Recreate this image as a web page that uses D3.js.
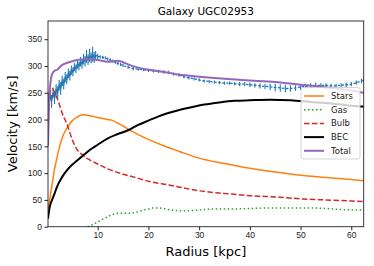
<!DOCTYPE html>
<html lang="en">
<head>
    <meta charset="utf-8">
    <title>Galaxy UGC02953</title>
    <style>
        body { margin: 0; background: #fff; }
        svg { display: block; font-family: "DejaVu Sans", sans-serif; }
        .tick text { font-size: 8.5px; fill: #222; }
        .tick line { stroke: #222; }
    </style>
</head>
<body>
    <div id="container"></div>

    <script src="https://cdn.jsdelivr.net/npm/d3@7"></script>
    <script>
        // Model curves: [radius kpc, velocity km/s]
        const stars = [[0.2,32],[0.6,55],[1,78],[1.5,108],[2,130],[2.5,150],[3,166],[4,185],[5,198],[6,205],[7,209],[8,208],
            [9,206],[10,204],[11,202],[12,200],[13,198],[14,193],[15,188],[16,182],[18,172],[20,163],[23,151],[26,141],
            [30,128],[35,118],[40,109],[45,102],[50,96],[55,92],[60,88],[62.5,86]];
        const gas = [[8,0],[9,4],[10,9],[11,14],[12,19],[13,23],[14,25],[15,25],[16,25],[17,26],[18,28],[19,31],[20,33],
            [21,35],[22,35],[23,34],[24,32],[26,30],[28,30],[30,31],[33,33],[36,33],[40,34],[44,35],[48,35],[52,35],
            [55,34],[58,32],[62.5,31]];
        const bulb = [[0.2,200],[0.6,250],[1,258],[1.5,250],[2.2,235],[3,212],[4,190],[5,162],[6,143],[7,134],[8,127],
            [10,117],[12,108],[15,98],[17,93],[20,85],[24,78],[30,67],[35,62],[40,58],[46,55],[50,52],[55,50],[60,48],[62.5,47]];
        const bec = [[0.2,15],[0.5,35],[1,50],[1.5,62],[2,75],[3,93],[4,106],[5,116],[6,124],[7,132],[8,140],[9,147],
            [10,153],[12,165],[14,173],[16,180],[18,190],[20,198],[22,206],[25,215],[28,222],[31,228],[34,232],[37,235],
            [40,236],[44,237],[48,236],[52,233],[56,230],[60,226],[62.5,224]];
        const total = [[0.2,150],[0.4,230],[0.7,270],[1,285],[1.5,291],[2,293],[3,302],[4,306],[5,309],[6,311],[8,313],
            [10,311],[12,308],[13,309],[14,310],[15,307],[16,303],[18,297],[20,293],[23,289],[26,284],[30,280],[35,276],
            [40,273],[45,270],[50,265],[55,260],[60,254],[62.5,250]];

        // Observed rotation curve: [radius, velocity, error]
        const observed = [[0.3,238,12],[0.6,245,10],[0.9,234,12],[1.2,250,10],[1.5,241,12],[1.8,256,10],[2.1,250,12],
            [2.4,264,10],[2.7,258,12],[3.0,272,10],[3.3,266,10],[3.6,279,10],[3.9,275,9],[4.2,286,9],[4.5,282,9],
            [4.8,292,9],[5.1,289,8],[5.4,298,8],[5.7,295,8],[6.0,303,8],[6.3,300,8],[6.6,308,9],[6.9,304,9],[7.2,313,10],
            [7.5,309,10],[7.8,318,12],[8.1,312,10],[8.4,320,12],[8.7,315,10],[9.0,322,14],[9.3,316,10],[9.6,320,8],
            [10,318,5],[10.5,317,3],[11,316,3],[11.5,315,3],[12,313,3],[12.5,311,3],[13,309,3],[13.5,307,3],[14,305,3],
            [14.5,303,3],[15,301,3],[16,298,3],[17,295,3],[18,294,3],[19,293,3],[20,292,3],[21,291,3],[22,290,3],
            [23,289,3],[24,288,3],[25,285,3],[26,283,3],[27,280,3],[28,278,3],[29,276,3],[30,274,3],[31,272,3],
            [32,271,3],[33,270,3],[34,269,3],[35,268,3],[36,268,3],[37,267,3],[38,266,4],[39,266,4],[40,265,4],
            [41,264,4],[42,263,5],[43,262,5],[44,261,6],[45,260,7],[46,259,7],[47,258,7],[48,258,6],[49,259,5],
            [50,261,6],[51,262,5],[52,263,5],[53,264,5],[54,264,4],[55,264,4],[56,263,4],[57,263,4],[58,264,4],
            [59,265,4],[60,266,4],[61,269,4],[62,272,4],[62.5,274,4]];

        const xTicks = [10, 20, 30, 40, 50, 60];
        const yTicks = [0, 50, 100, 150, 200, 250, 300, 350];
        const legendNames = ["Stars", "Gas", "Bulb", "BEC", "Total"];

        // Chart dimensions
        const width = 374;
        const height = 266;
        const marginTop = 21;
        const marginRight = 10.3;
        const marginBottom = 39.3;
        const marginLeft = 48;

        const svg = d3.select("#container").append("svg")
            .attr("width", width)
            .attr("height", height);

        const x = d3.scaleLinear()
            .domain([0.2, 62.45])
            .range([marginLeft, width - marginRight]);

        const y = d3.scaleLinear()
            .domain([0, 384])
            .range([height - marginBottom, marginTop]);

        // clip lines to the axes box
        svg.append("clipPath").attr("id", "clip")
            .append("rect")
            .attr("x", marginLeft).attr("y", marginTop)
            .attr("width", width - marginLeft - marginRight)
            .attr("height", height - marginTop - marginBottom);

        const line = d3.line()
            .x(d => x(d[0]))
            .y(d => y(d[1]))
            .curve(d3.curveMonotoneX);

        const plot = svg.append("g").attr("clip-path", "url(#clip)");

        // observed data: solid through the noisy inner part, broken further out
        const obsLine = d3.line().x(d => x(d[0])).y(d => y(d[1]));
        plot.append("path")
            .datum(observed.filter(d => d[0] <= 10))
            .attr("fill", "none")
            .attr("stroke", "#1f77b4")
            .attr("stroke-width", 1.3)
            .attr("d", obsLine);
        plot.append("path")
            .datum(observed.filter(d => d[0] >= 10))
            .attr("fill", "none")
            .attr("stroke", "#1f77b4")
            .attr("stroke-width", 1.3)
            .attr("stroke-dasharray", "2.5,1.5")
            .attr("d", obsLine);

        plot.selectAll(".err")
            .data(observed)
            .enter().append("line")
            .attr("class", "err")
            .attr("x1", d => x(d[0]))
            .attr("x2", d => x(d[0]))
            .attr("y1", d => y(d[1] - d[2]))
            .attr("y2", d => y(d[1] + d[2]))
            .attr("stroke", "#1f77b4")
            .attr("stroke-width", 1.1);

        const series = [
            { data: stars, color: "#ff7f0e", w: 1.5, dash: null },
            { data: gas, color: "#2ca02c", w: 1.5, dash: "1.5,2.5" },
            { data: bulb, color: "#d62728", w: 1.5, dash: "5.5,2.4" },
            { data: bec, color: "#000000", w: 2, dash: null },
            { data: total, color: "#9467bd", w: 2, dash: null }
        ];

        series.forEach(s => {
            plot.append("path")
                .datum(s.data)
                .attr("fill", "none")
                .attr("stroke", s.color)
                .attr("stroke-width", s.w)
                .attr("stroke-dasharray", s.dash)
                .attr("d", line);
        });

        // Axes
        svg.append("g")
            .attr("transform", `translate(0,${height - marginBottom})`)
            .call(d3.axisBottom(x).tickValues(xTicks).tickSize(3.5).tickPadding(2))
            .call(g => g.select(".domain").remove());

        svg.append("g")
            .attr("transform", `translate(${marginLeft},0)`)
            .call(d3.axisLeft(y).tickValues(yTicks).tickSize(3.5).tickPadding(2.5))
            .call(g => g.select(".domain").remove());

        // frame
        svg.append("rect")
            .attr("x", marginLeft)
            .attr("y", marginTop)
            .attr("width", width - marginLeft - marginRight)
            .attr("height", height - marginTop - marginBottom)
            .attr("fill", "none")
            .attr("stroke", "#222")
            .attr("stroke-width", 0.9);

        // Title and labels
        const cx = (marginLeft + width - marginRight) / 2;
        svg.append("text")
            .attr("x", cx).attr("y", 15)
            .attr("text-anchor", "middle")
            .attr("font-size", 10.5)
            .text("Galaxy UGC02953");

        svg.append("text")
            .attr("x", cx).attr("y", 256)
            .attr("text-anchor", "middle")
            .attr("font-size", 13)
            .text("Radius [kpc]");

        svg.append("text")
            .attr("transform", `translate(17,${(marginTop + height - marginBottom) / 2}) rotate(-90)`)
            .attr("text-anchor", "middle")
            .attr("font-size", 13)
            .text("Velocity [km/s]");

        // Legend
        const legend = svg.append("g");
        legend.append("rect")
            .attr("x", 301).attr("y", 87.5)
            .attr("width", 59).attr("height", 71.5)
            .attr("rx", 2)
            .attr("fill", "#fff").attr("fill-opacity", 0.8)
            .attr("stroke", "#ccc").attr("stroke-width", 0.8);

        legendNames.forEach((name, i) => {
            const s = series[i];
            const ly = 96 + i * 13.7;
            legend.append("line")
                .attr("x1", 304).attr("x2", 324)
                .attr("y1", ly).attr("y2", ly)
                .attr("stroke", s.color)
                .attr("stroke-width", s.w)
                .attr("stroke-dasharray", s.dash);
            legend.append("text")
                .attr("x", 331).attr("y", ly + 3)
                .attr("font-size", 8.5)
                .attr("fill", "#222")
                .text(name);
        });
    </script>
</body>
</html>
